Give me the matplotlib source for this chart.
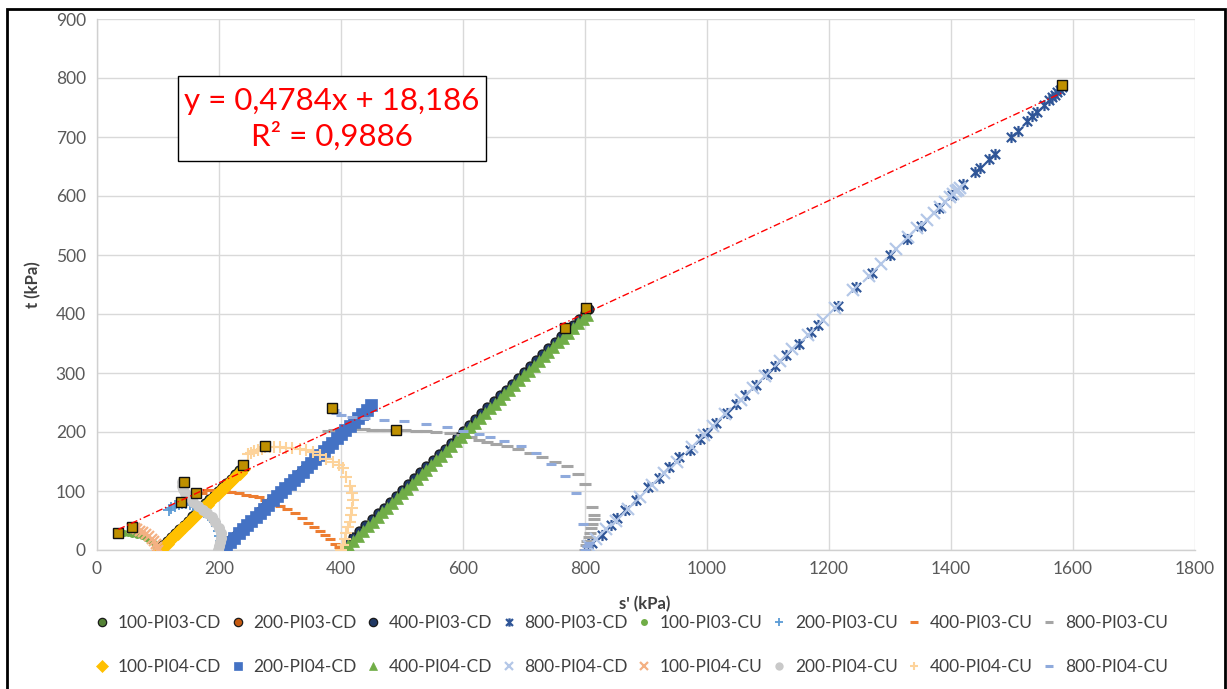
"""Stress paths s'-t for PI03 / PI04 triaxial tests (CD and CU), with peak-state fit."""

import matplotlib

matplotlib.use("Agg")
import matplotlib.pyplot as plt
from matplotlib.lines import Line2D
from matplotlib.patches import Rectangle
from matplotlib.path import Path

plt.rcParams["font.family"] = ["Lato", "DejaVu Sans"]

# ---- data --------------------------------------------------------------------
cd100_pi03_s = [100, 107, 114, 121, 128, 135, 142, 149, 156, 163, 170, 177, 184, 191, 198, 205, 212, 219, 226, 233, 240]
cd100_pi03_t = [0, 8, 15, 22, 29, 36, 43, 50, 57, 64, 71, 79, 86, 93, 100, 107, 114, 121, 128, 136, 143]

cd200_pi03_s = [205, 212, 220, 228, 236, 244, 252, 260, 268, 276, 284, 292, 300, 308, 316, 324, 332, 340, 348, 356, 364, 372, 380, 388]
cd200_pi03_t = [2, 10, 18, 26, 34, 42, 50, 58, 66, 74, 82, 90, 98, 106, 114, 122, 130, 138, 146, 154, 162, 170, 178, 185]

cd400_pi03_s = [400, 410, 420, 430, 440, 450, 460, 470, 480, 490, 500, 510, 520, 530, 540, 550, 560, 570, 580, 590, 600,
                610, 620, 630, 640, 650, 660, 670, 680, 690, 700, 710, 720, 730, 740, 750, 760, 770, 780, 790, 800, 806]
cd400_pi03_t = [0, 12, 22, 32, 42, 52, 62, 72, 82, 92, 102, 112, 122, 132, 142, 152, 162, 172, 182, 192, 202,
                212, 222, 232, 242, 252, 262, 272, 282, 292, 302, 312, 322, 332, 342, 352, 362, 372, 382, 392, 402, 408]

cd800_pi03_s = [802, 812, 828, 842, 853, 866, 884, 904, 922, 938, 954, 972, 989, 1000, 1015, 1032, 1048, 1062, 1080,
                1098, 1112, 1130, 1150, 1170, 1182, 1215, 1245, 1270, 1300, 1328, 1350, 1380, 1402, 1420, 1440, 1448,
                1462, 1472, 1499, 1510, 1525, 1532, 1541, 1553, 1561, 1566, 1570, 1574, 1578, 1582]
cd800_pi03_t = [2, 12, 26, 42, 54, 68, 85, 106, 122, 140, 157, 170, 188, 198, 216, 232, 248, 262, 280,
                298, 312, 330, 350, 369, 382, 414, 446, 470, 500, 527, 550, 580, 602, 620, 641, 648,
                662, 672, 700, 711, 727, 735, 743, 754, 762, 768, 772, 776, 780, 785]

cd100_pi04_s = [102, 108, 114, 120, 126, 132, 138, 144, 150, 156, 162, 168, 174, 180, 186, 192, 198, 204, 210, 216, 222, 228, 234, 240]
cd100_pi04_t = [0, 5, 11, 17, 23, 29, 35, 41, 47, 53, 59, 65, 71, 77, 83, 89, 95, 101, 107, 113, 119, 125, 131, 137]

cd200_pi04_s = [205, 211, 218, 225, 232, 239, 246, 253, 260, 267, 274, 281, 288, 295, 302, 309, 316, 323, 330, 337, 344,
                351, 358, 365, 372, 379, 386, 393, 400, 407, 414, 421, 428, 435, 442, 449]
cd200_pi04_t = [2, 7, 14, 21, 28, 35, 42, 49, 56, 63, 70, 77, 84, 91, 98, 105, 112, 119, 126, 133, 140,
                147, 154, 161, 168, 175, 182, 189, 196, 203, 210, 217, 224, 231, 238, 246]

cd400_pi04_s = [404, 412, 420, 428, 436, 444, 452, 460, 468, 476, 484, 492, 500, 508, 516, 524, 532, 540, 548, 556, 564,
                572, 580, 588, 596, 604, 612, 620, 628, 636, 644, 652, 660, 668, 676, 684, 692, 700, 708, 716, 724,
                732, 740, 748, 756, 764, 772, 780, 788, 796, 803]
cd400_pi04_t = [2, 8, 16, 24, 32, 40, 48, 56, 64, 72, 80, 88, 96, 104, 112, 120, 128, 136, 144, 152, 160,
                168, 176, 184, 192, 200, 208, 216, 224, 232, 240, 248, 256, 264, 272, 280, 288, 296, 304, 312, 320,
                328, 336, 344, 352, 360, 368, 376, 384, 392, 399]

cd800_pi04_s = [806, 818, 835, 850, 870, 890, 910, 930, 950, 975, 995, 1010, 1030, 1055, 1075, 1095, 1120, 1140, 1165,
                1190, 1210, 1240, 1265, 1285, 1310, 1330, 1345, 1360, 1372, 1382, 1390, 1398, 1403, 1408, 1412, 1415]
cd800_pi04_t = [6, 18, 35, 50, 70, 90, 110, 130, 150, 175, 195, 210, 230, 255, 275, 295, 320, 340, 365,
                390, 410, 440, 465, 485, 510, 530, 545, 560, 572, 582, 590, 598, 603, 608, 611, 614]

cu100_pi03_s = [100, 98, 95, 91, 86, 80, 73, 66, 58, 50, 44, 40]
cu100_pi03_t = [0, 4, 9, 13, 17, 20, 23, 25, 27, 28, 29, 30]

cu200_pi03_s = [202, 203, 203, 202, 200, 197, 193, 188, 182, 176, 170, 164, 158, 152, 146, 140, 134, 128, 122, 118]
cu200_pi03_t = [0, 8, 16, 24, 32, 40, 47, 54, 60, 65, 69, 73, 76, 78, 79, 80, 78, 75, 71, 67]

cu400_pi03_s = [400, 396, 390, 382, 374, 365, 356, 346, 336, 324, 312, 300, 288, 276, 266, 256, 244, 232, 220, 210,
                200, 190, 180, 172]
cu400_pi03_t = [0, 5, 11, 18, 25, 32, 39, 46, 54, 62, 69, 75, 80, 85, 89, 92, 94, 97, 99, 100,
                101, 102, 101, 97]

cu800_pi03_s = [800, 802, 804, 806, 808, 810, 812, 814, 815, 812, 800, 788, 771, 750, 730, 710, 690, 672, 654, 640,
                627, 613, 599, 578, 556, 540, 523, 505, 490, 475, 463, 450, 437, 424, 412, 400, 388, 378]
cu800_pi03_t = [0, 8, 15, 22, 29, 37, 44, 52, 60, 73, 112, 128, 142, 150, 158, 165, 171, 176, 180, 183,
                187, 191, 195, 198, 200, 201, 202, 203, 203, 203, 204, 204, 205, 205, 205, 205, 204, 202]

cu100_pi04_s = [100, 99, 97, 94, 90, 86, 81, 76, 71, 66, 62, 58]
cu100_pi04_t = [0, 5, 10, 15, 19, 23, 27, 30, 33, 35, 37, 38]

cu200_pi04_s = [198, 200, 202, 204, 204, 200, 194, 188, 180, 173, 165, 157, 150, 145, 141, 140, 140]
cu200_pi04_t = [0, 6, 13, 20, 28, 37, 47, 56, 62, 68, 75, 81, 89, 96, 103, 109, 115]

cu400_pi04_s = [400, 403, 406, 409, 411, 414, 416, 418, 420, 418, 414, 408, 403, 396, 387, 376, 365, 354, 343, 332,
                320, 310, 300, 290, 283, 276, 270, 264, 258, 252, 248]
cu400_pi04_t = [0, 9, 19, 29, 39, 48, 60, 72, 85, 97, 108, 124, 139, 144, 149, 155, 161, 166, 170, 172,
                173, 173, 174, 174, 175, 175, 172, 170, 167, 165, 163]

cu800_pi04_s = [800, 803, 806, 796, 786, 768, 745, 720, 695, 667, 645, 627, 600, 573, 540, 504, 470, 440, 418, 400,
                392, 388]
cu800_pi04_t = [0, 6, 12, 44, 97, 125, 145, 164, 176, 185, 191, 196, 202, 209, 213, 218, 221, 224, 226, 228,
                232, 237]

# peak states used for the linear fit
peak_s = [35, 58, 138, 143, 163, 239, 275, 386, 490, 767, 802, 1582]
peak_t = [29, 39, 81, 115, 97, 144, 176, 241, 203, 376, 410, 788]

FIT_SLOPE = 0.4784
FIT_INTERCEPT = 18.186
FIT_TEXT = "y = 0,4784x + 18,186\nR² = 0,9886"

# Excel-like "star" marker: x with a vertical bar
STAR = Path([(-1, -1), (1, 1), (-1, 1), (1, -1), (0, -1.2), (0, 1.2)],
            [Path.MOVETO, Path.LINETO, Path.MOVETO, Path.LINETO, Path.MOVETO, Path.LINETO])

# label, s, t, style
SERIES = [
    ("100-PI03-CD", cd100_pi03_s, cd100_pi03_t, dict(marker="o", ms=6.5, mfc="#548235", mec="#1a1a1a", mew=0.9)),
    ("200-PI03-CD", cd200_pi03_s, cd200_pi03_t, dict(marker="o", ms=6.5, mfc="#c55a11", mec="#1a1a1a", mew=0.9)),
    ("400-PI03-CD", cd400_pi03_s, cd400_pi03_t, dict(marker="o", ms=6.5, mfc="#203864", mec="#1a1a1a", mew=0.9)),
    ("800-PI03-CD", cd800_pi03_s, cd800_pi03_t, dict(marker=STAR, ms=8, mfc="none", mec="#2f5597", mew=1.6)),
    ("100-PI03-CU", cu100_pi03_s, cu100_pi03_t, dict(marker="o", ms=5, mfc="#70ad47", mec="#70ad47", mew=0)),
    ("200-PI03-CU", cu200_pi03_s, cu200_pi03_t, dict(marker="+", ms=8, mec="#5b9bd5", mew=1.3)),
    ("400-PI03-CU", cu400_pi03_s, cu400_pi03_t, dict(marker="_", ms=7, mec="#ed7d31", mew=2.2)),
    ("800-PI03-CU", cu800_pi03_s, cu800_pi03_t, dict(marker="_", ms=8, mec="#a5a5a5", mew=2.2)),
    ("100-PI04-CD", cd100_pi04_s, cd100_pi04_t, dict(marker="D", ms=7.5, mfc="#ffc000", mec="#ffc000", mew=0.5)),
    ("200-PI04-CD", cd200_pi04_s, cd200_pi04_t, dict(marker="s", ms=8.5, mfc="#4472c4", mec="#4472c4", mew=0.5)),
    ("400-PI04-CD", cd400_pi04_s, cd400_pi04_t, dict(marker="^", ms=8, mfc="#70ad47", mec="#70ad47", mew=0.5)),
    ("800-PI04-CD", cd800_pi04_s, cd800_pi04_t, dict(marker="x", ms=9, mec="#b4c7e7", mew=1.6)),
    ("100-PI04-CU", cu100_pi04_s, cu100_pi04_t, dict(marker="x", ms=7, mec="#f4b183", mew=1.6)),
    ("200-PI04-CU", cu200_pi04_s, cu200_pi04_t, dict(marker="o", ms=8, mfc="#c9c9c9", mec="#c9c9c9", mew=0)),
    ("400-PI04-CU", cu400_pi04_s, cu400_pi04_t, dict(marker="+", ms=9, mec="#fdd39b", mew=1.5)),
    ("800-PI04-CU", cu800_pi04_s, cu800_pi04_t, dict(marker="_", ms=7, mec="#8faadc", mew=2.2)),
]

W, H = 1227, 689
fig = plt.figure(figsize=(W / 100, H / 100), dpi=100)
ax = fig.add_axes([97 / W, 1 - 550 / H, (1195 - 97) / W, (550 - 19) / H])

handles = {}
for label, s, t, style in SERIES:
    (h,) = ax.plot(s, t, ls="none", label=label, zorder=3, **style)
    handles[label] = h

ax.plot(peak_s, peak_t, ls="none", marker="s", ms=7, mfc="#bf9000", mec="#111111", mew=1.0, zorder=5)

fit_x = [min(peak_s), max(peak_s)]
fit_y = [FIT_SLOPE * x + FIT_INTERCEPT for x in fit_x]
ax.plot(fit_x, fit_y, color="#ff0000", lw=1.0, dashes=(5, 2, 1, 2), zorder=6)

ax.set_xlim(0, 1800)
ax.set_ylim(0, 900)
ax.set_xticks(range(0, 1801, 200))
ax.set_yticks(range(0, 901, 100))
ax.grid(True, color="#d9d9d9", lw=1.0)
ax.set_axisbelow(True)
for side in ("top", "right"):
    ax.spines[side].set_visible(False)
for side in ("left", "bottom"):
    ax.spines[side].set_color("#d0d0d0")
    ax.spines[side].set_linewidth(1.0)
ax.tick_params(length=0, labelsize=12.5, labelcolor="#595959", pad=8)

fig.text(645 / W, 1 - 604 / H, "s' (kPa)", ha="center", va="center", fontsize=12,
         fontweight="bold", color="#404040")
fig.text(33 / W, 1 - 285 / H, "t (kPa)", ha="center", va="center", rotation=90, fontsize=12,
         fontweight="bold", color="#404040")

# fit equation box
fig.patches.append(Rectangle((178 / W, 1 - 161 / H), (486 - 178) / W, (161 - 76) / H,
                             transform=fig.transFigure, fill=True, fc="white", ec="black", lw=1.0, zorder=10))
fig.text(332 / W, 1 - 119 / H, FIT_TEXT, ha="center", va="center", fontsize=22.5, color="#ff0000",
         linespacing=1.3, zorder=11)

# legend: two rows of eight, column-major ordering in matplotlib
labels = [lab for lab, *_ in SERIES]
order = []
for i in range(8):
    order += [labels[i], labels[i + 8]]
leg_handles = []
for lab in order:
    h = handles[lab]
    leg_handles.append(Line2D([], [], ls="none", marker=h.get_marker(), ms=min(h.get_markersize(), 6.0),
                              mfc=h.get_markerfacecolor(), mec=h.get_markeredgecolor(),
                              mew=h.get_markeredgewidth()))
fig.legend(leg_handles, order, ncol=8, loc="center", bbox_to_anchor=(0.5 + 18 / W, 1 - 645 / H),
           frameon=False, fontsize=12.5, handlelength=0.8, handletextpad=0.5, columnspacing=0.55,
           labelspacing=1.6, labelcolor="#404040")

# outer frame of the chart object
fig.patches.append(Rectangle((7 / W, -0.02), (1225 - 7) / W, 1 - 9 / H + 0.02, transform=fig.transFigure,
                             fill=False, ec="black", lw=2.0, zorder=20))

fig.savefig("out.png", dpi=100)
